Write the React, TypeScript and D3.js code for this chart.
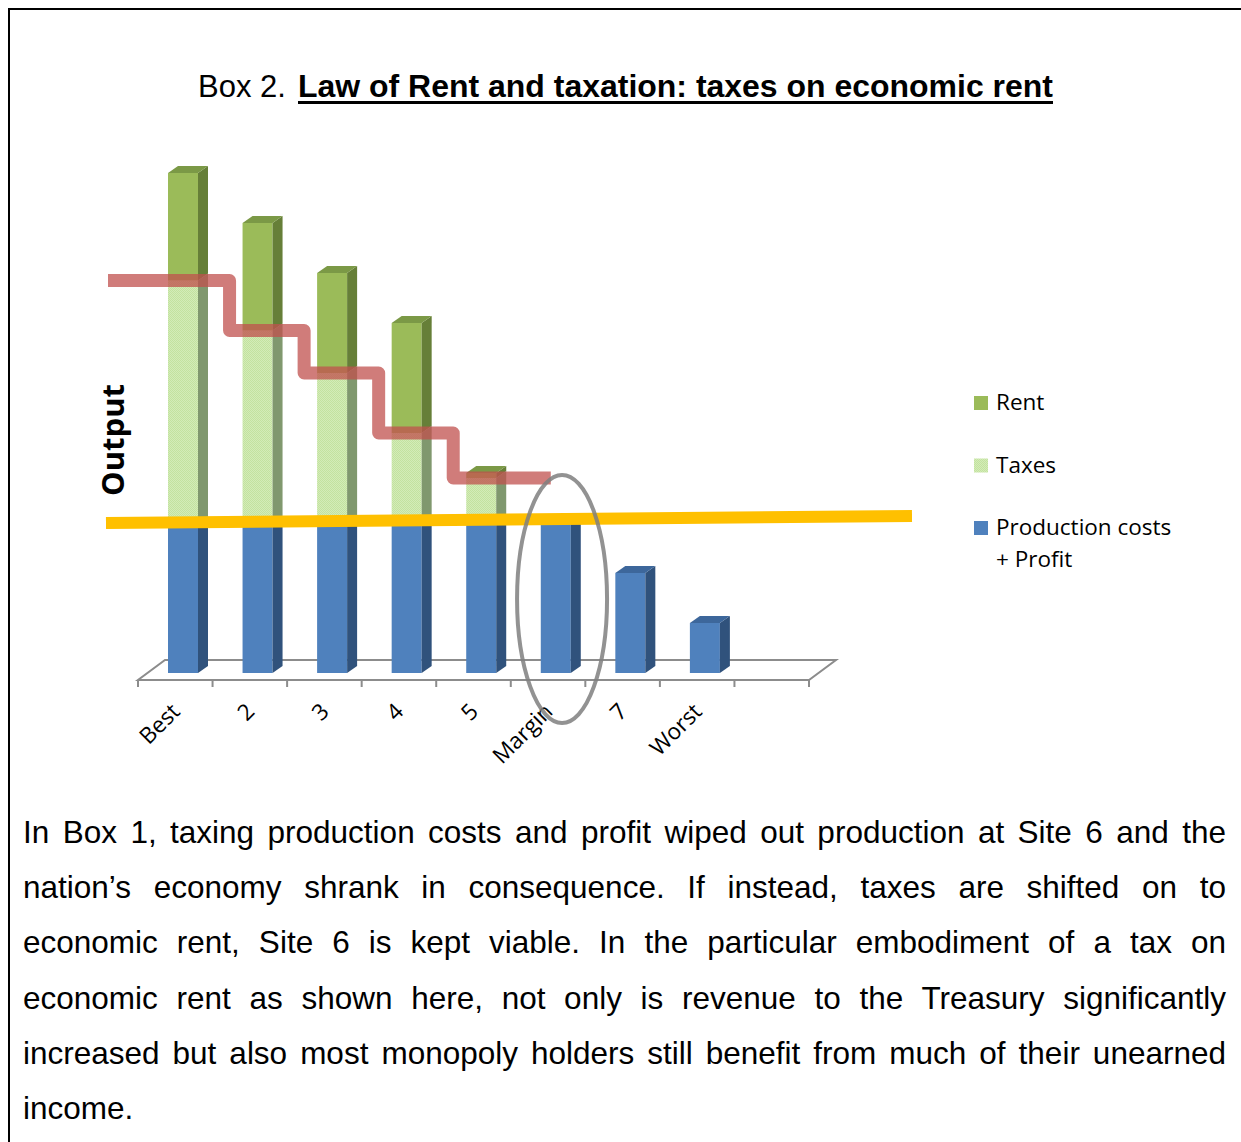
import React, { useLayoutEffect, useRef } from 'react'
import * as d3 from 'd3'

// categories and stacked values (arbitrary "output" units)
const categories = ['Best', '2', '3', '4', '5', 'Margin', '7', 'Worst']
const productionCosts = [3, 3, 3, 3, 3, 3, 2, 1]
const taxes = [4.85, 3.85, 3, 1.8, 0.9, 0, 0, 0]
const rent = [2.15, 2.15, 2, 2.2, 0.1, 0, 0, 0]

const legendLabels = [['Rent'], ['Taxes'], ['Production costs', '+ Profit']]

const bodyLines = [
  'In Box 1, taxing production costs and profit wiped out production at Site 6 and the',
  'nation\u2019s economy shrank in consequence. If instead, taxes are shifted on to',
  'economic rent, Site 6 is kept viable. In the particular embodiment of a tax on',
  'economic rent as shown here, not only is revenue to the Treasury significantly',
  'increased but also most monopoly holders still benefit from much of their unearned',
  'income.'
]

const W = 1241
const H = 1142
const FONT = '"Open Sans", sans-serif'
const ARIAL = '"Liberation Sans", Arial, sans-serif'

// 3d look
const DX = 10
const DY = -7
const BAR_W = 30

const styles = {
  prod: { front: '#4f81bd', side: '#30527c', top: '#3d679b' },
  taxes: { front: 'url(#taxPattern)', side: '#80986e', top: '#a9c98a' },
  rent: { front: '#9bbb59', side: '#667f38', top: '#7b9946' }
}

const rows = categories.map((c, i) => ({ cat: c, prod: productionCosts[i], taxes: taxes[i], rent: rent[i] }))
const keys = ['prod', 'taxes', 'rent'] as const

export default function App () {
  const ref = useRef<SVGSVGElement>(null)

  const x = d3.scaleBand<string>()
    .domain([...categories, ''])
    .range([138, 809])
    .padding(0)
  const y = d3.scaleLinear().domain([0, 10]).range([673, 173])
  const step = x.step()

  const stacked = d3.stack<any>().keys(keys as any)(rows)

  const floorFront = 680
  const floorBack = 660
  const floorDx = 27
  const [x0, x1] = x.range()

  // justify the paragraph lines
  useLayoutEffect(() => {
    const textWidth = 1203
    d3.select(ref.current).selectAll<SVGTextElement, unknown>('text.body').each(function (_, i) {
      if (i === bodyLines.length - 1) return
      this.style.wordSpacing = '0px'
      const len = this.getComputedTextLength()
      const spaces = (bodyLines[i].match(/ /g) || []).length
      this.style.wordSpacing = `${(textWidth - len) / spaces}px`
    })
  }, [])

  // step line over the tax tops (sites with rent)
  const levels = categories
    .map((_, i) => i)
    .filter(i => taxes[i] > 0)
    .map(i => y(productionCosts[i] + taxes[i]))
  const stepPts: [number, number][] = [[x(categories[0])! - 30, levels[0]]]
  levels.forEach((lv, i) => {
    if (i < levels.length - 1) {
      const vx = x(categories[i + 1])! + 17
      stepPts.push([vx, lv], [vx, levels[i + 1]])
    }
  })
  stepPts.push([x(categories[levels.length])! + 40, levels[levels.length - 1]])
  const stepLine = d3.line()(stepPts)

  const marginCat = categories[5]
  const baseLevel = productionCosts[0]

  return (
    <svg ref={ref} width={W} height={H} style={{ position: 'absolute', left: 0, top: 0, background: '#fff' }}>
      <defs>
        <pattern id="taxPattern" width="2" height="2" patternUnits="userSpaceOnUse">
          <rect width="2" height="2" fill="#d3ecb8" />
          <rect width="1" height="1" fill="#c3e29f" />
          <rect x="1" y="1" width="1" height="1" fill="#c3e29f" />
        </pattern>
      </defs>

      {/* frame */}
      <path d={`M9,${H} V9 H${W}`} fill="none" stroke="#000" strokeWidth={2} />

      {/* title */}
      <text x={198} y={97} fontFamily={ARIAL} fontSize={31} fill="#000">Box 2.</text>
      <text x={298} y={97} fontFamily={ARIAL} fontSize={31} fontWeight="bold" fill="#000"
        textLength={755} lengthAdjust="spacingAndGlyphs">Law of Rent and taxation: taxes on economic rent</text>
      <line x1={298} x2={1053} y1={102.5} y2={102.5} stroke="#000" strokeWidth={3} />

      {/* floor */}
      <path
        d={`M${x0},${floorFront} L${x1},${floorFront} L${x1 + floorDx},${floorBack} L${x0 + floorDx},${floorBack} Z`}
        fill="none" stroke="#8c8c8c" strokeWidth={2}
      />
      {[...x.domain().map(c => x(c)!), x1].map((t, i) => (
        <line key={i} x1={t} x2={t} y1={floorFront} y2={floorFront + 7} stroke="#8c8c8c" strokeWidth={2} />
      ))}

      {/* bars */}
      {categories.map((c, i) => {
        const bx = x(c)! + BAR_W
        const segs = keys.map((k, ki) => ({ k, d: stacked[ki][i] })).filter(s => s.d[1] - s.d[0] > 0)
        const topSeg = segs[segs.length - 1]
        return (
          <g key={c}>
            {segs.map(({ k, d }) => {
              const yt = y(d[1])
              const yb = y(d[0])
              const st = styles[k]
              return (
                <g key={k}>
                  <rect x={bx} y={yt} width={BAR_W} height={yb - yt} fill={st.front} />
                  <path d={`M${bx + BAR_W},${yt} L${bx + BAR_W + DX},${yt + DY} L${bx + BAR_W + DX},${yb + DY} L${bx + BAR_W},${yb} Z`} fill={st.side} />
                </g>
              )
            })}
            {topSeg && (() => {
              const yt = y(topSeg.d[1])
              return (
                <path d={`M${bx},${yt} L${bx + DX},${yt + DY} L${bx + BAR_W + DX},${yt + DY} L${bx + BAR_W},${yt} Z`} fill={styles[topSeg.k].top} />
              )
            })()}
          </g>
        )
      })}

      {/* category labels */}
      {categories.map(c => {
        const cx = x(c)! + step / 2 + 6
        return (
          <text key={c} transform={`translate(${cx},713) rotate(-45)`} textAnchor="end"
            fontFamily={FONT} fontSize={22.5} fill="#000">{c}</text>
        )
      })}

      {/* production cost level */}
      <line x1={x0 - 32} x2={912} y1={y(baseLevel)} y2={y(baseLevel + 0.14)} stroke="#ffc000" strokeWidth={12} />

      {/* rent / tax boundary */}
      <path d={stepLine!} fill="none" stroke="#c0504d" strokeOpacity={0.75} strokeWidth={13} strokeLinejoin="round" />

      {/* margin site */}
      <ellipse cx={x(marginCat)! + step / 2 + 14} cy={599} rx={45} ry={124} fill="none" stroke="#7f7f7f" strokeOpacity={0.85} strokeWidth={4} />

      {/* axis title */}
      <text transform="translate(124,440) rotate(-90)" textAnchor="middle" fontFamily={FONT} fontWeight="bold" fontSize={31} fill="#000">Output</text>

      {/* legend */}
      {legendLabels.map((lines, i) => {
        const k = keys[keys.length - 1 - i]
        const ly = 410 + i * 62.5
        return (
          <g key={i}>
            <rect x={974} y={ly - 14} width={14} height={14} fill={styles[k].front} />
            {lines.map((t, j) => (
              <text key={j} x={996} y={ly + j * 31.5} fontFamily={FONT} fontSize={22.5} fill="#000">{t}</text>
            ))}
          </g>
        )
      })}

      {/* paragraph */}
      {bodyLines.map((t, i) => (
        <text key={i} className="body" x={23} y={843 + i * 55.2} fontFamily={ARIAL} fontSize={31.5} fill="#000">{t}</text>
      ))}
    </svg>
  )
}
